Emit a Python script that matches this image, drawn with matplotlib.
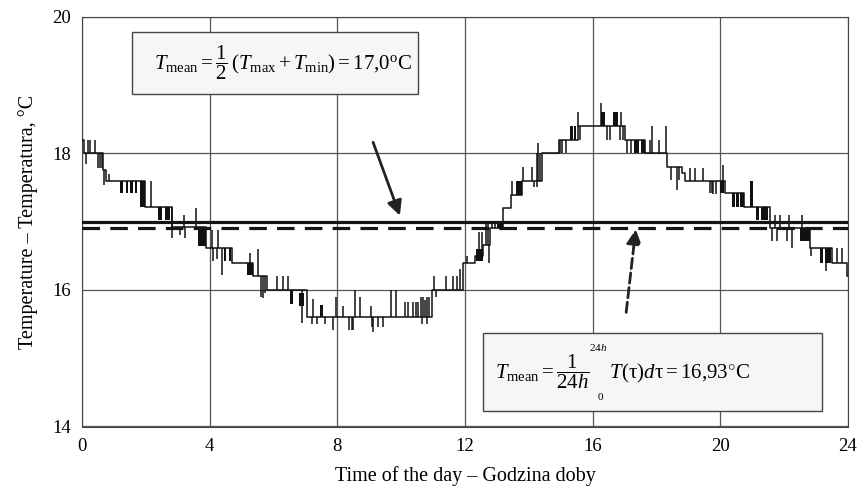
import numpy as np
import matplotlib
matplotlib.use("Agg")
import matplotlib.pyplot as plt
from matplotlib.patches import Rectangle

plt.rcParams['font.family'] = ['Liberation Serif', 'DejaVu Serif']
plt.rcParams['mathtext.fontset'] = 'custom'
plt.rcParams['mathtext.rm'] = 'Liberation Serif'
plt.rcParams['mathtext.it'] = 'Liberation Serif:italic'
plt.rcParams['mathtext.bf'] = 'Liberation Serif:bold'

# step levels of the recorded temperature (hour, degC)
seg_t = [0.0, 0.05, 0.66, 0.75, 1.97, 2.82, 3.88, 4.70, 5.36, 5.80, 7.05,
         10.98, 11.95, 12.32, 12.58, 12.79, 13.20, 13.45, 13.80, 14.40, 14.93,
         15.55, 17.00, 17.64, 18.32, 18.79, 18.90, 20.14, 20.73, 21.57, 22.80,
         23.50, 23.97]
seg_T = [18.2, 18.0, 17.75, 17.6, 17.21, 16.92, 16.62, 16.4, 16.2, 16.0, 15.6,
         16.0, 16.4, 16.5, 16.66, 16.9, 17.2, 17.39, 17.6, 18.0, 18.2,
         18.4, 18.2, 18.0, 17.8, 17.71, 17.6, 17.42, 17.21, 16.9, 16.61,
         16.39, 16.2]

# fast toggling between two levels (start, end, low, high)
blk_t0 = [1.19, 1.38, 1.50, 1.66, 1.82, 2.39, 2.60, 3.62, 4.45, 4.60, 5.17,
          6.52, 6.80, 7.46, 12.35, 13.00, 13.60, 15.29, 15.42, 16.27, 16.64,
          17.28, 17.50, 19.98, 20.38, 20.50, 20.63, 20.94, 21.12, 21.28, 22.50,
          23.12, 23.28]
blk_t1 = [1.27, 1.45, 1.59, 1.73, 1.97, 2.50, 2.76, 3.88, 4.52, 4.68, 5.36,
          6.62, 6.95, 7.56, 12.55, 13.20, 13.80, 15.37, 15.48, 16.40, 16.78,
          17.45, 17.64, 20.12, 20.45, 20.57, 20.73, 21.02, 21.22, 21.48, 22.80,
          23.22, 23.48]
blk_lo = [17.42, 17.42, 17.42, 17.42, 17.22, 17.02, 17.02, 16.65, 16.42, 16.42, 16.22,
          15.8, 15.76, 15.6, 16.42, 16.9, 17.39, 18.2, 18.2, 18.4, 18.4,
          18.0, 18.0, 17.42, 17.21, 17.21, 17.21, 17.21, 17.02, 17.02, 16.71,
          16.39, 16.39]
blk_hi = [17.6, 17.6, 17.6, 17.6, 17.6, 17.21, 17.21, 16.92, 16.62, 16.62, 16.4,
          16.0, 15.95, 15.78, 16.6, 16.96, 17.6, 18.4, 18.4, 18.61, 18.61,
          18.2, 18.2, 17.6, 17.42, 17.42, 17.42, 17.59, 17.21, 17.21, 16.9,
          16.61, 16.61]

# single-sample spikes (hour, degC)
spk_t = [0.12, 0.20, 0.26, 0.40, 0.50, 0.57, 0.63, 0.70, 0.84, 2.15, 2.81,
         3.07, 3.20, 3.22, 3.57, 4.06, 4.10, 4.22, 4.27, 4.38, 5.26, 5.52,
         5.60, 5.68, 5.75, 6.12, 6.29, 6.46, 6.88, 7.20, 7.24, 7.35, 7.62,
         7.87, 7.96, 8.19, 8.37, 8.45, 8.50, 8.55, 8.71, 9.04, 9.10, 9.13,
         9.28, 9.44, 9.67, 9.84, 10.12, 10.23, 10.36, 10.48, 10.54, 10.62,
         10.65, 10.70, 10.76, 10.80, 10.82, 10.88, 11.02, 11.08, 11.40, 11.63,
         11.74, 11.85, 12.05, 12.45, 12.52, 12.65, 12.72, 12.76, 12.85, 12.95,
         13.48, 13.82, 14.10, 14.15, 14.25, 14.27, 14.30, 14.35, 14.98, 15.05,
         15.15, 15.55, 15.60, 16.27, 16.45, 16.53, 16.85, 16.90, 16.95, 17.08,
         17.20, 17.80, 17.85, 18.09, 18.30, 18.45, 18.63, 18.70, 19.04, 19.20,
         19.46, 19.68, 19.73, 19.77, 19.88, 20.09, 21.62, 21.72, 21.78, 21.88,
         22.09, 22.14, 22.25, 22.56, 22.85, 23.30, 23.66, 23.82]
spk_T = [17.85, 18.2, 18.2, 18.2, 17.78, 17.78, 17.78, 17.54, 17.7, 17.6, 16.76,
         16.8, 17.1, 16.76, 17.2, 16.88, 16.42, 16.45, 16.88, 16.22, 16.54, 16.6,
         15.9, 15.88, 15.95, 16.2, 16.2, 16.2, 15.52, 15.5, 15.86, 15.5, 15.5,
         15.41, 15.9, 15.77, 15.41, 15.41, 15.41, 16.0, 15.9, 15.77, 15.45, 15.38,
         15.45, 15.45, 16.0, 16.0, 15.83, 15.83, 15.83, 15.83, 15.83, 15.9,
         15.5, 15.9, 15.85, 15.5, 15.9, 15.9, 16.2, 15.9, 16.2, 16.2,
         16.2, 16.3, 16.5, 16.85, 16.85, 16.98, 16.98, 16.4, 17.0, 17.0,
         17.6, 17.8, 17.8, 17.5, 17.5, 18.0, 18.15, 18.0, 18.0, 18.0,
         18.0, 18.61, 18.2, 18.73, 18.2, 18.2, 18.2, 18.6, 18.2, 18.0,
         18.0, 18.2, 18.4, 18.2, 18.4, 17.61, 17.46, 17.61, 17.78, 17.78,
         17.78, 17.42, 17.42, 17.41, 17.41, 17.83, 16.71, 17.1, 16.71, 17.1,
         16.71, 17.1, 16.61, 17.1, 16.5, 16.27, 16.61, 16.61]

# mean lines as drawn in the figure
mean_minmax = 17.0
mean_integral = 16.9

fig = plt.figure(figsize=(8.61, 5.0), dpi=100)
ax = fig.add_axes([0.0952, 0.147, 0.8897, 0.8196])

trace = '#111111'
ax.step(seg_t + [24.0], seg_T + [seg_T[-1]], where='post', color=trace, lw=1.1, zorder=3)
for a, b, lo, hi in zip(blk_t0, blk_t1, blk_lo, blk_hi):
    ax.bar(a, hi - lo, width=b - a, bottom=lo, align='edge', color=trace, lw=0, zorder=3)
idx = np.searchsorted(seg_t, spk_t, side='right') - 1
base = np.array(seg_T)[idx]
ax.vlines(spk_t, base, spk_T, color=trace, lw=1.1, zorder=3)

ax.axhline(mean_minmax, color='#151515', lw=2.3, zorder=4)
ax.axhline(mean_integral, color='#151515', lw=2.3, dashes=(5.5, 3.2), zorder=4)

ax.set_xlim(0, 24)
ax.set_ylim(14, 20)
ax.set_xticks(range(0, 25, 4))
ax.set_yticks(range(14, 21, 2))
ax.grid(True, color='#555555', lw=0.9)
ax.tick_params(length=0, labelsize=13.5, pad=8)
for s in ax.spines.values():
    s.set_color('#444444')
ax.set_xlabel('Time of the day – Godzina doby', fontsize=14.5, labelpad=8)
ax.set_ylabel('Temperature – Temperatura, °C', fontsize=14.5, labelpad=10)

# formula boxes
ax.add_patch(Rectangle((1.57, 18.87), 10.53 - 1.57, 19.78 - 18.87, fc='#f6f6f6',
                       ec='#444444', lw=1, zorder=5))
ax.add_patch(Rectangle((12.56, 14.23), 23.18 - 12.56, 15.37 - 14.23, fc='#f6f6f6',
                       ec='#444444', lw=1, zorder=5))
ax.text(6.3, 19.32, r'$T_{\mathrm{mean}} = \dfrac{1}{2}\,(T_{\mathrm{max}} + T_{\mathrm{min}}) = 17{,}0^{\mathrm{o}}\mathrm{C}$',
        fontsize=15, ha='center', va='center', zorder=6)
ax.text(12.95, 14.8, r'$T_{\mathrm{mean}} = \dfrac{1}{24h}\quad\; T(\mathrm{\tau})d\mathrm{\tau} = 16{,}93^{\circ}\mathrm{C}$',
        fontsize=15, ha='left', va='center', zorder=6)
ax.text(16.17, 15.16, r'24$h$', fontsize=8, ha='center', va='center', zorder=6)
ax.text(16.23, 14.42, '0', fontsize=8, ha='center', va='center', zorder=6)

ax.annotate('', xy=(9.99, 17.05), xytext=(9.09, 18.2),
            arrowprops=dict(arrowstyle='-|>', color='#222222', lw=2, mutation_scale=22), zorder=6)
ax.annotate('', xy=(17.36, 16.93), xytext=(17.04, 15.63),
            arrowprops=dict(arrowstyle='-|>', color='#222222', lw=2, ls='--', mutation_scale=22), zorder=6)

fig.savefig('out.png', dpi=100)
